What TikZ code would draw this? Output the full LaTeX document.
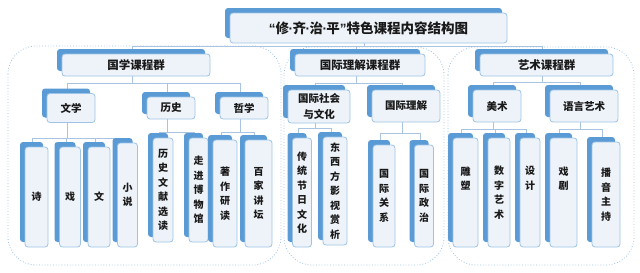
\documentclass[tikz,border=0pt]{standalone}
\usepackage{fontspec}
\setmainfont{Noto Sans CJK SC}
\newfontfamily\latinfont{Liberation Sans}
\usepackage{xcolor}
\usetikzlibrary{shadows,backgrounds}
\definecolor{ShadowBlue}{RGB}{91,155,213}
\definecolor{EdgeBlue}{RGB}{157,195,230}
\definecolor{BoxFill}{RGB}{238,243,249}
\definecolor{LinkBlue}{RGB}{168,196,226}
% 窄标点
\newcommand{\nd}{{\latinfont\bfseries\kern-0.5pt·\kern-0.5pt}}

\begin{document}
\begin{tikzpicture}[x=1pt, y=-1pt,
	box/.style={draw=EdgeBlue, line width=0.8pt, fill=BoxFill, rounded corners=3pt,
		inner sep=0pt, text=black!90, align=center,
		general shadow={fill=ShadowBlue, shadow xshift=-5pt, shadow yshift=5pt}},
	sz/.style 2 args={minimum width=#1pt, minimum height=#2pt},
	group/.style={box, font=\fontsize{11.5}{14}\selectfont\bfseries},
	sub/.style={box, font=\fontsize{10.5}{16}\selectfont\bfseries},
	leaf/.style={box, font=\fontsize{10}{14.5}\selectfont\bfseries},
	lifted/.style={text depth=29pt},
	link/.style={draw=LinkBlue, line width=0.9pt},
	region/.style={draw=EdgeBlue, line width=0.8pt, dotted, rounded corners=28pt}]
	\useasboundingbox (0,0) rectangle (640,273);
	
	% 总标题
	\node[box, sz={277}{30}, font=\fontsize{13.5}{16}\selectfont\bfseries] (title) at (368.5,28)
		{{\latinfont\bfseries “}修\nd 齐\nd 治\nd 平{\latinfont\bfseries ”}特色课程内容结构图};
	
	% 三个课程群
	\node[group, sz={148}{22}] (guoxue) at (136,65) {国学课程群};
	\node[group, sz={130}{22}] (guoji) at (360,65) {国际理解课程群};
	\node[group, sz={133}{22}] (yishu) at (546.5,65) {艺术课程群};
	
	% 第二层
	\node[sub, sz={48}{29}] (wenxue) at (71,108) {文学};
	\node[sub, sz={48}{22}] (lishi) at (171,108) {历史};
	\node[sub, sz={48}{22}] (zhexue) at (244,108) {哲学};
	\node[sub, sz={62}{33}] (shehui) at (319,106.5) {国际社会\\与文化};
	\node[sub, sz={68}{32}] (lijie) at (406,106) {国际理解};
	\node[sub, sz={48}{32}] (meishu) at (497,106) {美术};
	\node[sub, sz={68}{32}] (yuyan) at (584,106) {语言艺术};
	
	% 课程
	\node[leaf, sz={23}{100}] (shi) at (36.5,197) {诗};
	\node[leaf, sz={21}{100}] (xi) at (70,197) {戏};
	\node[leaf, sz={22}{100}] (wen) at (99,197) {文};
	\node[leaf, sz={20}{104}] (xiaoshuo) at (127.5,195) {小\\说};
	\node[leaf, sz={20}{104}] (wenxian) at (163,190) {历\\史\\文\\献\\选\\读};
	\node[leaf, sz={19}{104}] (bowu) at (198.5,190) {走\\进\\博\\物\\馆};
	\node[leaf, sz={24}{107}] (zhuzuo) at (225,193.5) {著\\作\\研\\读};
	\node[leaf, sz={27}{107}] (baijia) at (258.5,193.5) {百\\家\\讲\\坛};
	\node[leaf, sz={19}{109}] (jieri) at (302,192.5) {传\\统\\节\\日\\文\\化};
	\node[leaf, sz={24}{108}] (yingshi) at (335,191) {东\\西\\方\\影\\视\\赏\\析};
	\node[leaf, sz={22}{102}] (guanxi) at (384,196) {国\\际\\关\\系};
	\node[leaf, sz={19}{102}] (zhengzhi) at (424,196) {国\\际\\政\\治};
	\node[leaf, lifted, sz={25}{109}] (diaosu) at (465.5,192.5) {雕\\塑};
	\node[leaf, sz={22}{109}] (shuzi) at (499,192.5) {数\\字\\艺\\术};
	\node[leaf, lifted, sz={20}{109}] (sheji) at (530,192.5) {设\\计};
	\node[leaf, lifted, sz={27}{109}] (xiju) at (563.5,192.5) {戏\\剧};
	\node[leaf, sz={28}{105}] (boyin) at (606,194.5) {播\\音\\主\\持};
	
	\begin{scope}[on background layer]
		% 虚线分区
		\draw[region] (8,46) rectangle (281,265);
		\draw[region] (284,47) rectangle (444,265);
		\draw[region] (448,47) rectangle (634,265);
		% 连线
		\foreach \p/\d/\kids in {title/3/{guoxue,guoji,yishu},
				guoxue/7/{wenxue,lishi,zhexue}, guoji/7/{shehui,lijie}, yishu/6/{meishu,yuyan},
				wenxue/16/{shi,xi,wen,xiaoshuo}, lishi/13/{wenxian,bowu}, zhexue/13/{zhuzuo,baijia},
				shehui/5/{jieri,yingshi}, lijie/11/{guanxi,zhengzhi},
				meishu/7/{diaosu,shuzi,sheji}, yuyan/7/{xiju,boyin}}
			\foreach \k in \kids
				\draw[link] ([xshift=-4pt]\p.south) -- ++(0,\d) -| ([xshift=-4pt]\k.north);
	\end{scope}
\end{tikzpicture}
\end{document}
